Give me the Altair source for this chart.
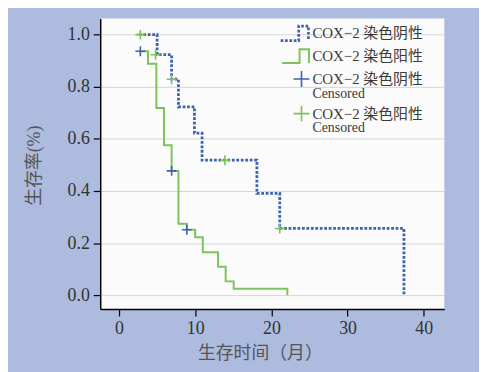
import altair as alt
import pandas as pd

# ---- data ----
neg_time = [2.6, 5.0, 6.9, 7.8, 9.9, 10.9, 18.1, 21.1, 37.4]
neg_surv = [1.0, 0.923, 0.829, 0.723, 0.622, 0.518, 0.391, 0.256, 0.0]
pos_time = [2.6, 3.8, 4.9, 5.9, 6.9, 7.8, 8.9, 10.0, 11.0, 13.0, 14.0, 15.05, 22.1]
pos_surv = [0.936, 0.888, 0.718, 0.575, 0.477, 0.274, 0.251, 0.222, 0.165, 0.109, 0.053, 0.025, 0.0]
neg_cens_time = [2.8, 4.8, 6.9, 13.9, 21.1]
neg_cens_surv = [1.0, 0.923, 0.829, 0.518, 0.256]
pos_cens_time = [2.8, 6.9, 8.9]
pos_cens_surv = [0.936, 0.477, 0.251]

x_ticks = [0, 10, 20, 30, 40]
y_ticks = [0.0, 0.2, 0.4, 0.6, 0.8, 1.0]
labels = ["COX−2 染色阴性", "COX−2 染色阳性", "Censored"]

BLUE = "#3b62b3"
GREEN = "#7cc35c"
LATIN = "Liberation Serif"
CJK = "Liberation Serif, Noto Sans CJK SC"

neg = pd.DataFrame({"t": neg_time, "s": neg_surv})
pos = pd.DataFrame({"t": pos_time, "s": pos_surv})
negc = pd.DataFrame({"t": neg_cens_time, "s": neg_cens_surv})
posc = pd.DataFrame({"t": pos_cens_time, "s": pos_cens_surv})

xs = alt.Scale(domain=[-2.47, 42.7], nice=False, zero=False)
ys = alt.Scale(domain=[-0.053, 1.062], nice=False, zero=False)

X = alt.X("t:Q", scale=xs, axis=alt.Axis(
    values=x_ticks, grid=False, title="生存时间（月）", format="d",
    titleX=161, titleY=45, titleBaseline="middle", titleAlign="center"))
Y = alt.Y("s:Q", scale=ys, axis=alt.Axis(
    values=y_ticks, grid=True, title="生存率(%)", format=".1f",
    titleX=-66, titleY=148, titleAngle=270, titleBaseline="middle",
    titleAlign="center"))

PLUS = "M -1 0 L 1 0 M 0 -1 L 0 1"
STEP = "M -1 0.52 L 0.3 0.52 L 0.3 -0.52 L 1 -0.52 L 1 0.52"

line_neg = alt.Chart(neg).mark_line(
    interpolate="step-after", color=BLUE, strokeWidth=2.8,
    strokeDash=[2.8, 1.7], strokeCap="butt").encode(x=X, y=Y)
line_pos = alt.Chart(pos).mark_line(
    interpolate="step-after", color=GREEN, strokeWidth=2).encode(x="t:Q", y="s:Q")
cens_neg = alt.Chart(negc).mark_point(
    shape=PLUS, size=100, filled=False, color=GREEN, strokeWidth=1.6,
    opacity=1).encode(x="t:Q", y="s:Q")
cens_pos = alt.Chart(posc).mark_point(
    shape=PLUS, size=100, filled=False, color=BLUE, strokeWidth=1.6,
    opacity=1).encode(x="t:Q", y="s:Q")

one = pd.DataFrame({"k": [0]})


def sym(shape, size, color, sw, x, y, dash=None):
    kw = dict(shape=shape, size=size, filled=False, color=color,
              strokeWidth=sw, opacity=1)
    if dash:
        kw["strokeDash"] = dash
    return alt.Chart(one).mark_point(**kw).encode(x=alt.value(x), y=alt.value(y))


def txt(t, x, y, size=15):
    return alt.Chart(one).mark_text(
        text=t, align="left", baseline="middle", font=CJK, fontSize=size,
        color="#3a3a3a").encode(x=alt.value(x), y=alt.value(y))


legend = [
    sym(STEP, 784, BLUE, 2.7, 196, 15, dash=[2.7, 1.7]),
    sym(STEP, 729, GREEN, 2, 197, 38),
    sym(PLUS, 256, BLUE, 1.6, 203, 61),
    sym(PLUS, 256, GREEN, 1.6, 203, 96),
    txt(labels[0], 214, 15),
    txt(labels[1], 214, 38),
    txt(labels[0], 214, 61),
    txt(labels[2], 214, 76, 14),
    txt(labels[1], 214, 96),
    txt(labels[2], 214, 111, 14),
]

chart = alt.layer(line_pos, line_neg, cens_neg, cens_pos, *legend).properties(
    width=347, height=293,
    padding={"left": 93, "top": 9, "right": 35, "bottom": 62},
    autosize=alt.AutoSizeParams(type="none"),
    background="#adbbdf",
).configure_view(fill="#fbfbfb", stroke=None).configure_axis(
    domainColor="#000000", domainWidth=1.5, tickColor="#000000", tickWidth=1.2,
    tickSize=7, labelFont=LATIN, labelFontSize=18, labelColor="#333333",
    labelPadding=4, titleFont=CJK, titleFontSize=18, titleColor="#555555",
    titleFontWeight="normal", gridColor="#d4d4d4", gridWidth=1,
)

chart.save("out.html", embed_options={"renderer": "svg", "actions": False})
